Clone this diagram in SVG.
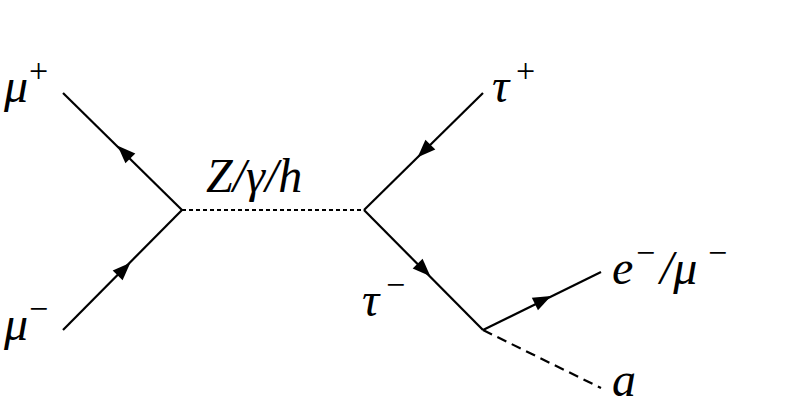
<svg xmlns="http://www.w3.org/2000/svg" width="810" height="406" viewBox="0 0 810 406">
<style>
.l{stroke:#000;stroke-width:2.2;fill:none}
.t{font-family:"Liberation Serif",serif;font-style:italic;font-size:48px;fill:#000}
.s{font-family:"Liberation Serif",serif;font-size:34px;fill:#000}
</style>
<defs><polygon id="ah" points="9,0 -9,-7 -9,7" fill="#000"/></defs>
<rect width="810" height="406" fill="#fff"/>
<g id="connectors">
<line class="l" x1="63" y1="93" x2="182" y2="210"/>
<line class="l" x1="63" y1="330" x2="182" y2="210"/>
<line class="l" x1="182" y1="210" x2="364" y2="210" stroke-dasharray="4,3"/>
<line class="l" x1="483" y1="93" x2="364" y2="210"/>
<line class="l" x1="364" y1="210" x2="483" y2="330"/>
<line class="l" x1="483" y1="330" x2="601" y2="272"/>
<line class="l" x1="483" y1="330" x2="601" y2="388" stroke-dasharray="10,6"/>
<use href="#ah" transform="translate(124,152) rotate(-135)"/>
<use href="#ah" transform="translate(124,269) rotate(-45)"/>
<use href="#ah" transform="translate(424,151) rotate(135)"/>
<use href="#ah" transform="translate(424,270) rotate(45)"/>
<use href="#ah" transform="translate(543,300) rotate(-26)"/>
</g>
<g id="mu_plus"><text class="t" x="4" y="102">μ</text><text class="s" x="29" y="82">+</text></g>
<g id="mu_minus"><text class="t" x="4" y="340">μ</text><text class="s" x="29" y="320">−</text></g>
<g id="boson"><text class="t" x="206" y="192">Z/γ/h</text></g>
<g id="tau_plus"><text class="t" x="492" y="102">τ</text><text class="s" x="516" y="82">+</text></g>
<g id="tau_minus"><text class="t" x="362" y="316">τ</text><text class="s" x="386" y="296">−</text></g>
<g id="lepton"><text class="t" x="612" y="284">e</text><text class="s" x="636" y="264">−</text><text class="t" x="660" y="284">/μ</text><text class="s" x="708" y="264">−</text></g>
<g id="axion"><text class="t" x="612" y="396">a</text></g>
</svg>
